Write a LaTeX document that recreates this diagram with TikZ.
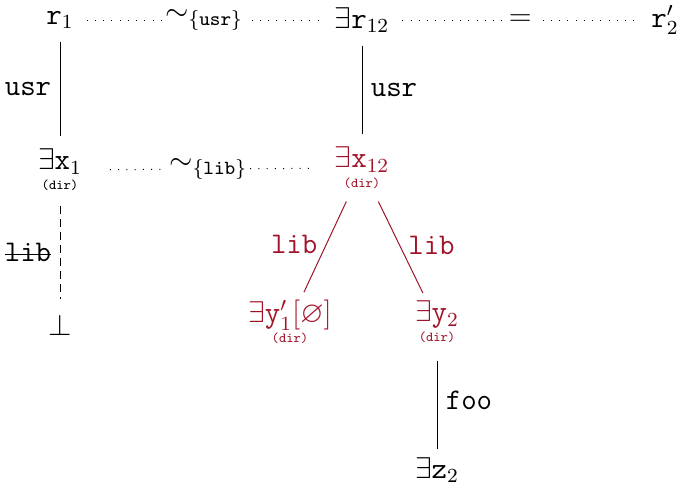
\documentclass[tikz,border=0pt]{standalone}
\usepackage{amsmath,amssymb}
\usepackage{tikz}
\usetikzlibrary{arrows.meta,positioning,calc}
\definecolor{DirRed}{HTML}{A0142A}
\newcommand{\dirtag}{{\fontsize{5.5}{6}\selectfont\texttt{(dir)}}}
\newcommand{\struck}[1]{\setbox0\hbox{#1}\rlap{\rule[0.5ex]{\wd0}{0.5pt}}\box0}
\tikzset{
  tnode/.style={font=\large,inner sep=3pt},
  dnode/.style={tnode,align=center},
  simline/.style={dash pattern=on 0.4pt off 2.9pt},
  simlbl/.style={fill=white,inner xsep=1pt,inner ysep=0pt,font=\large},
  edgelbl/.style={font=\large}
}

\begin{document}
\begin{tikzpicture}[x=0.4pt,y=-0.4pt]
        \useasboundingbox (0,0) rectangle (680,487);
        % row of roots
        \node[tnode] (r1) at (60,20) {$\mathtt{r}_1$};
        \node[tnode] (r12) at (362,20) {$\exists\mathtt{r}_{12}$};
        \node[tnode] (r2) at (665,20) {$\mathtt{r}'_2$};
        \draw[simline,shorten <=2pt,shorten >=2pt] (r1) -- node[simlbl]{$\sim_{\{\mathtt{usr}\}}$} (r12);
        \draw[simline,shorten <=2pt,shorten >=3pt] (r12) -- node[simlbl,inner xsep=2pt]{$=$} (r2);
        % second row
        \node[dnode] (x1) at (60,170) {$\exists\mathtt{x}_1$\\[-6pt]\dirtag};
        \node[dnode,DirRed] (x12) at (362,168) {$\exists\mathtt{x}_{12}$\\[-6pt]\dirtag};
        \draw[simline,shorten <=8pt,shorten >=5pt] (x1) -- node[simlbl]{$\sim_{\{\mathtt{lib}\}}$} (x12);
        \draw[shorten <=2pt,shorten >=2pt] (r1) -- node[left,edgelbl]{\texttt{usr}} (x1);
        \draw[shorten <=2pt,shorten >=2pt] (r12) -- node[right,edgelbl]{\texttt{usr}} (x12);
        % below x1
        \node[tnode] (bot) at (60,325) {$\bot$};
        \draw[dash pattern=on 3pt off 2.2pt,shorten <=3pt,shorten >=3pt] (x1) -- node[left,edgelbl]{\struck{\texttt{lib}}} (bot);
        % children of x12
        \node[dnode,DirRed] (y1) at (290,322) {$\exists\mathtt{y}'_1[\varnothing]$\\[-6pt]\dirtag};
        \node[dnode,DirRed] (y2) at (437,322) {$\exists\mathtt{y}_2$\\[-6pt]\dirtag};
        \draw[DirRed,shorten <=2pt] (x12) -- node[left,edgelbl]{\texttt{lib}} (y1);
        \draw[DirRed,shorten <=2pt] (x12) -- node[right,edgelbl]{\texttt{lib}} (y2);
        \node[tnode] (z2) at (437,470) {$\exists\mathtt{z}_2$};
        \draw[shorten <=4pt] (y2) -- node[right,edgelbl]{\texttt{foo}} (z2);
      \end{tikzpicture}
\end{document}
